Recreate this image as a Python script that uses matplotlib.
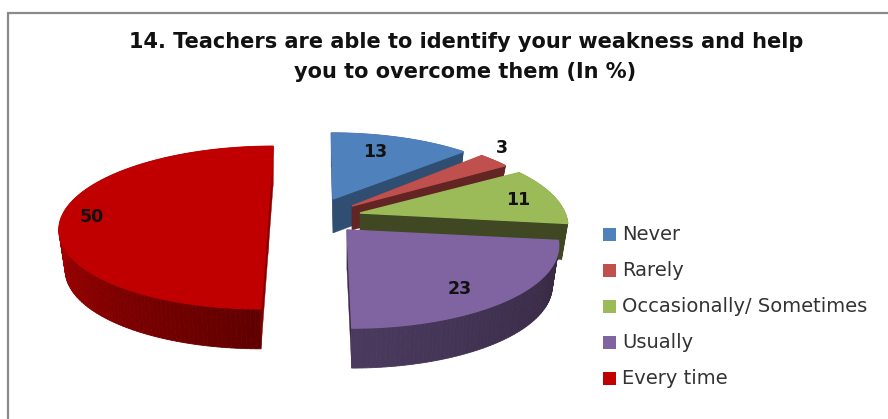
import numpy as np
import matplotlib
matplotlib.use('Agg')
import matplotlib.pyplot as plt
from matplotlib.patches import Polygon, Rectangle
from matplotlib.colors import to_rgb

# data
categories = ['Never', 'Rarely', 'Occasionally/ Sometimes', 'Usually', 'Every time']
values = [13, 3, 11, 23, 50]
title_lines = ['14. Teachers are able to identify your weakness and help',
               'you to overcome them (In %)']

# colours: top, cut face, wall (right end of the arc), wall (far end)
top_col = ['#4f81bd', '#c0504d', '#9bbb59', '#8064a2', '#c00000']
cut_col = ['#2f4e72', '#632523', '#3f4723', '#3a2a48', '#8a0000']
wall_a = ['#2f4e72', '#632523', '#3f4723', '#352640', '#600000']
wall_b = ['#2f4e72', '#632523', '#3f4723', '#4a3a5e', '#a80000']

# layout, in pixels of the 888x419 picture
apex_x = [333, 352, 360, 347, 268]
apex_y = [199, 206, 213, 230, 214]
depth = [34, 24, 36, 40, 40]
radius = [201, 198, 205, 208, 205]
tilt = [77, 82, 82, 81.7, 79]
skew = [-2, 0, 0, -4, 6]
persp = 0.167
shrink = 0.97  # bottom edge is a bit narrower than the top
label_x = [375, 502, 518, 460, 92]
label_y = [152, 148, 200, 289, 217]
draw_order = [4, 0, 1, 2, 3]


def project(i, ang):
    # ang is clockwise from the top, degrees
    a = np.radians(ang)
    u = np.sin(a)
    v = np.cos(a)
    w = 1.0 / (1 + persp * v)
    return apex_x[i] + (radius[i] * u + skew[i] * v) * w, apex_y[i] - tilt[i] * v * w


def mix(c1, c2, t):
    c1 = np.array(to_rgb(c1))
    c2 = np.array(to_rgb(c2))
    return tuple(c1 + (c2 - c1) * t)


fig = plt.figure(figsize=(8.88, 4.19), dpi=100)
ax = fig.add_axes([0, 0, 1, 1])
ax.set_xlim(0, 888)
ax.set_ylim(419, 0)
ax.axis('off')

starts = np.cumsum([0] + values[:-1]) * 3.6
ends = np.cumsum(values) * 3.6

for i in draw_order:
    d = depth[i]
    x0, y0 = apex_x[i], apex_y[i]
    # cut faces
    for ang in (starts[i], ends[i]):
        xe, ye = project(i, ang)
        xb = x0 + (xe - x0) * shrink
        ax.add_patch(Polygon([(x0, y0), (xe, ye), (xb, ye + d), (x0, y0 + d)],
                             fc=cut_col[i], ec=cut_col[i], lw=0.3, zorder=1))
    # outer wall, shaded along the arc
    angs = np.linspace(starts[i], ends[i], int(values[i] * 3) + 4)
    xs, ys = project(i, angs)
    xb = x0 + (xs - x0) * shrink
    for j in range(len(angs) - 1):
        t = j / max(len(angs) - 2, 1)
        if i == 4:
            t = min(t * 2, 1)  # only the front half shows
        c = mix(wall_a[i], wall_b[i], t)
        ax.add_patch(Polygon([(xs[j], ys[j]), (xs[j + 1], ys[j + 1]),
                              (xb[j + 1], ys[j + 1] + d), (xb[j], ys[j] + d)],
                             fc=c, ec=c, lw=0.6, zorder=1))
    # top
    ax.add_patch(Polygon([(x0, y0)] + list(zip(xs, ys)),
                         fc=top_col[i], ec=top_col[i], lw=1.0, zorder=1))
    ax.text(label_x[i], label_y[i], str(values[i]), ha='center', va='center',
            fontsize=12.5, fontweight='bold', color='#111111', zorder=3)

# title
ax.text(466, 42, title_lines[0], ha='center', va='center', fontsize=15, fontweight='bold',
        color='#111111', zorder=3)
ax.text(465, 72, title_lines[1], ha='center', va='center', fontsize=15, fontweight='bold',
        color='#111111', zorder=3)

# legend
leg_y = [234, 270, 306, 342, 378]
for i, name in enumerate(categories):
    ax.add_patch(Rectangle((603, leg_y[i] - 6.5), 13, 13, fc=top_col[i], ec='none', zorder=3))
    ax.text(622, leg_y[i], name, ha='left', va='center', fontsize=14, color='#333333', zorder=3)

# chart frame
ax.plot([8, 8], [12, 419], color='#8a8a8a', lw=1.6, solid_capstyle='butt')
ax.plot([7, 888], [13, 13], color='#8a8a8a', lw=1.6, solid_capstyle='butt')

fig.savefig('out.png', dpi=100)
